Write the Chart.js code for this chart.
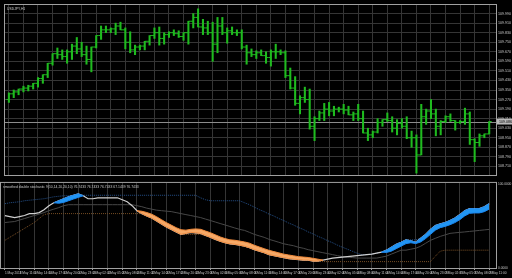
<!DOCTYPE html>
<html>
<head>
<meta charset="utf-8">
<script src="https://cdn.jsdelivr.net/npm/chart.js@4.4.1/dist/chart.umd.min.js"></script>
<style>
  html, body { margin: 0; padding: 0; background: #000; }
  #wrap { position: relative; width: 512px; height: 278px; background: #000; overflow: hidden; }
  canvas { position: absolute; left: 0; }
  #priceChart { top: 0; }
  #stochChart { top: 180px; }
</style>
</head>
<body>
<div id="wrap">
  <canvas id="priceChart" width="512" height="180"></canvas>
  <canvas id="stochChart" width="512" height="98"></canvas>
</div>
<script>
// texts
const symbolLabel = 'USDJPY,H1';
const indicatorLabel = 'smoothed double stochastic 9(10,14,20,20,10) 76.7433 76.7433 76.7433 67.1439 76.7433';

// time axis labels (one every 3 bars)
const timeLabels = ['1 May 2018','1 May 11:00','1 May 14:00','1 May 17:00','1 May 20:00','1 May 23:00',
  '2 May 02:00','2 May 05:00','2 May 08:00','2 May 11:00','2 May 14:00','2 May 17:00','2 May 20:00','2 May 23:00',
  '3 May 02:00','3 May 05:00','3 May 08:00','3 May 11:00','3 May 14:00','3 May 17:00','3 May 20:00','3 May 23:00',
  '4 May 02:00','4 May 05:00','4 May 08:00','4 May 11:00','4 May 14:00','4 May 17:00','4 May 20:00','4 May 23:00',
  '7 May 02:00','7 May 05:00','7 May 08:00','7 May 11:00'];
const labelEvery = 3;

// price axis
const priceTicks = [109.990,109.910,109.830,109.750,109.670,109.590,109.510,109.430,109.350,
  109.270,109.190,109.110,109.030,108.950,108.870,108.790,108.710];
const stochTicks = [100, 0];

// H1 bars
const highs = [109.326,109.350,109.358,109.382,109.390,109.406,109.454,109.478,109.574,109.654,
  109.702,109.686,109.686,109.734,109.790,109.750,109.718,109.710,109.806,109.886,
  109.886,109.870,109.910,109.918,109.870,109.838,109.726,109.726,109.758,109.806,
  109.870,109.878,109.830,109.838,109.854,109.846,109.830,109.926,109.990,110.030,
  109.942,109.926,109.918,109.958,109.958,109.870,109.878,109.854,109.854,109.726,
  109.694,109.678,109.686,109.670,109.686,109.734,109.686,109.678,109.534,109.462,
  109.302,109.374,109.358,109.126,109.174,109.238,109.246,109.214,109.206,109.230,
  109.214,109.166,109.230,109.174,109.030,109.006,109.110,109.102,109.158,109.126,
  109.102,109.110,109.126,109.006,108.974,109.230,109.190,109.270,109.190,109.094,
  109.134,109.150,109.094,109.094,109.198,109.166,108.942,108.982,108.982,109.086];
const lows = [109.246,109.286,109.310,109.334,109.342,109.358,109.374,109.406,109.454,109.558,
  109.614,109.606,109.574,109.606,109.654,109.630,109.566,109.502,109.702,109.774,
  109.830,109.830,109.814,109.854,109.694,109.662,109.646,109.686,109.686,109.726,
  109.782,109.726,109.734,109.790,109.806,109.790,109.766,109.734,109.870,109.878,
  109.814,109.814,109.590,109.662,109.814,109.742,109.814,109.806,109.694,109.566,
  109.630,109.614,109.638,109.574,109.550,109.614,109.646,109.454,109.358,109.222,
  109.150,109.246,109.022,108.926,109.094,109.094,109.134,109.134,109.166,109.150,
  109.142,109.094,109.094,108.990,108.926,108.950,108.990,109.046,109.086,108.998,
  108.974,109.030,108.942,108.870,108.654,108.806,109.062,109.110,108.966,108.974,
  109.078,109.086,109.014,109.070,109.062,108.894,108.750,108.878,108.950,108.982];
const opens = [109.270,109.318,109.334,109.358,109.366,109.382,109.406,109.446,109.478,109.574,
  109.654,109.646,109.630,109.670,109.718,109.694,109.646,109.606,109.710,109.806,
  109.854,109.854,109.862,109.886,109.854,109.750,109.686,109.710,109.718,109.758,
  109.806,109.830,109.782,109.814,109.830,109.822,109.798,109.830,109.926,109.958,
  109.878,109.870,109.830,109.734,109.886,109.830,109.846,109.830,109.830,109.710,
  109.662,109.646,109.662,109.638,109.622,109.670,109.670,109.662,109.470,109.366,
  109.238,109.286,109.270,109.046,109.110,109.158,109.190,109.174,109.190,109.190,
  109.182,109.142,109.150,109.110,108.990,108.974,108.998,109.078,109.102,109.094,
  109.030,109.070,109.046,108.950,108.950,108.806,109.126,109.174,109.150,109.046,
  109.086,109.126,109.094,109.078,109.086,109.150,108.934,108.910,108.966,108.982];
const closes = [109.318,109.334,109.358,109.366,109.382,109.406,109.446,109.478,109.574,109.654,
  109.646,109.630,109.670,109.718,109.694,109.646,109.606,109.710,109.806,109.854,
  109.854,109.862,109.886,109.854,109.750,109.686,109.710,109.718,109.758,109.806,
  109.830,109.782,109.814,109.830,109.822,109.798,109.830,109.926,109.958,109.878,
  109.870,109.830,109.734,109.886,109.830,109.846,109.830,109.830,109.710,109.662,
  109.646,109.662,109.638,109.622,109.670,109.670,109.662,109.470,109.366,109.238,
  109.286,109.270,109.046,109.110,109.158,109.190,109.174,109.190,109.190,109.182,
  109.142,109.150,109.110,108.990,108.974,108.998,109.078,109.102,109.094,109.030,
  109.070,109.046,108.950,108.950,108.806,109.126,109.174,109.150,109.046,109.086,
  109.126,109.094,109.078,109.086,109.150,108.934,108.910,108.966,108.982,109.086];

// indicator lines
const stochMain = [62.4,61.2,60.0,61.2,62.4,64.7,64.7,65.9,69.4,74.1,
  77.6,80.0,82.4,84.7,86.5,88.2,85.9,82.4,82.4,83.5,
  83.5,83.5,83.5,83.5,81.2,78.8,74.1,68.2,64.7,61.8,
  59.4,55.9,52.4,48.8,45.9,42.9,40.0,41.2,42.4,41.8,
  41.2,38.8,36.5,34.1,31.8,30.0,28.8,28.2,27.1,25.9,
  24.1,21.8,20.0,18.2,15.9,14.7,13.5,12.4,11.2,10.6,
  10.0,9.4,9.4,8.2,8.2,9.4,10.6,11.8,12.4,12.9,
  13.5,14.1,14.7,15.3,15.9,16.5,17.6,18.8,21.2,24.7,
  28.2,30.6,33.5,32.4,30.6,35.3,40.0,45.9,50.6,52.4,
  54.1,56.5,59.4,63.5,68.2,70.6,70.6,70.6,72.9,76.5];
const stochUpper = [76.5,77.6,78.2,78.8,80.0,80.6,81.2,81.8,82.4,83.5,
  84.7,85.3,85.9,86.0,86.5,88.2,86.5,86.5,86.5,86.5,
  86.5,86.5,86.5,86.5,86.5,86.5,86.5,86.5,86.5,86.5,
  86.5,86.5,86.5,86.5,86.5,86.5,86.5,86.5,86.5,86.5,
  83.5,81.2,80.0,80.0,80.0,80.0,80.0,80.0,80.0,77.6,
  75.3,72.4,69.4,67.1,64.1,61.8,58.8,56.5,53.5,51.2,
  48.2,45.9,42.9,40.6,37.6,35.3,32.4,30.0,27.1,24.7,
  22.4,20.0,17.6,15.9,15.9,16.5,17.6,18.8,21.2,24.7,
  28.2,30.6,33.5,33.5,33.5,35.3,40.0,45.9,50.6,52.4,
  54.1,56.5,59.4,63.5,68.2,70.6,70.6,70.6,72.9,76.5];
const stochMiddle = [54.1,54.7,55.3,57.1,58.8,60.6,62.4,64.1,65.9,68.2,
  70.0,71.8,74.1,75.3,75.3,75.3,75.3,75.3,75.3,75.3,
  75.3,75.3,75.3,75.3,75.3,75.3,75.3,74.1,72.9,71.2,
  70.0,68.8,68.2,67.6,67.1,65.9,64.7,63.5,62.4,61.2,
  60.0,58.2,56.5,54.7,52.9,51.2,49.4,47.6,45.9,44.7,
  42.4,40.0,38.2,36.5,34.1,32.4,30.6,28.8,27.6,26.5,
  24.7,23.5,21.8,20.6,19.4,18.2,17.1,15.9,14.7,13.5,
  12.9,12.4,11.8,11.8,11.8,11.8,11.8,12.9,14.1,16.5,
  18.8,21.2,21.2,22.4,23.5,25.9,29.4,32.9,35.3,37.6,
  39.4,41.2,41.8,42.4,42.9,43.5,44.1,44.7,45.3,45.9];
const stochLower = [32.9,36.5,40.0,43.5,47.1,50.6,54.1,58.8,63.5,64.7,
  64.7,64.7,64.7,64.7,64.7,64.7,64.7,64.7,64.7,64.7,
  64.7,64.7,64.7,64.7,64.7,64.7,64.7,64.7,64.7,61.8,
  59.4,55.9,52.4,48.8,45.9,42.9,40.0,40.0,40.0,40.0,
  40.0,38.8,36.5,34.1,31.8,30.0,28.8,28.2,27.1,25.9,
  24.1,21.8,20.0,18.2,15.9,14.7,13.5,12.4,11.2,10.6,
  10.0,9.4,9.4,8.2,8.2,7.6,7.6,7.6,7.6,7.6,
  7.6,7.6,7.6,7.6,7.6,7.6,7.6,7.6,7.6,7.6,
  7.6,7.6,7.6,7.6,7.6,7.6,7.6,7.6,14.1,20.0,
  21.2,21.2,21.2,21.2,21.2,21.2,21.2,21.2,21.2,21.2];

// coloured ribbons: falling (orange) and rising (blue)
const fallStart = 27;
const fallSignal = [68.2,67.5,66,64,61,57.5,54,51,48,45.5,45,46,46.5,46,44,42,39.5,37,35,33.5,
  33,32,31,29.5,27,25,23,21,19.5,18,16.5,15.5,14.5,13.5,13,12.5,11.5,10.5,9.4];
const riseStartA = 10;
const riseSignalA = [77.6,77,78,80,82,84,85.9];
const riseStartB = 77;
const riseSignalB = [18.8,18.5,20,23,26,29,30,29,31,35,40,45,48,49.5,51.5,54,57.5,62,65,65.5,65.5,67,70];

const barColor = '#1fbb1f';
const gridColor = '#353535';
const frameColor = '#a0a0a0';
const textColor = '#c8c8c8';
const xMin = -0.8, xMax = 100.4;

Chart.defaults.font.family = "'Liberation Sans', Arial, sans-serif";
Chart.defaults.color = textColor;

const gridIdx = timeLabels.map((_, k) => k * labelEvery);

function toPoints(arr, shift = 0) {
    return arr.map((v, i) => ({ x: i + shift, y: v }));
}

const framePlugin = {
    id: 'frame',
    afterDraw(chart) {
        const { ctx, chartArea: a } = chart;
        ctx.save();
        ctx.strokeStyle = frameColor;
        ctx.lineWidth = 1;
        ctx.strokeRect(a.left - 0.5, a.top - 0.5, a.right - a.left + 1, a.bottom - a.top + 1);
        ctx.restore();
    }
};

function cornerText(text) {
    return {
        id: 'cornerText',
        afterDraw(chart) {
            const { ctx, chartArea: a } = chart;
            ctx.save();
            ctx.fillStyle = textColor;
            ctx.font = "3.4px 'Liberation Sans', Arial, sans-serif";
            ctx.textBaseline = 'top';
            ctx.fillText(text, a.left + 2, a.top + 2);
            ctx.restore();
        }
    };
}

// bid line + price box on the right axis
const bidPlugin = {
    id: 'bid',
    beforeDatasetsDraw(chart) {
        const { ctx, chartArea: a, scales } = chart;
        const y = Math.round(scales.y.getPixelForValue(closes[closes.length - 1])) + 0.5;
        ctx.save();
        ctx.strokeStyle = '#8c8c8c';
        ctx.lineWidth = 1;
        ctx.beginPath();
        ctx.moveTo(a.left, y);
        ctx.lineTo(a.right, y);
        ctx.stroke();
        ctx.restore();
    },
    afterDraw(chart) {
        const { ctx, chartArea: a, scales } = chart;
        const last = closes[closes.length - 1];
        const y = scales.y.getPixelForValue(last);
        ctx.save();
        ctx.fillStyle = '#b8b8b8';
        ctx.fillRect(a.right + 1, y - 3, chart.width - a.right - 1, 6);
        ctx.fillStyle = '#000';
        ctx.font = "3.6px 'Liberation Sans', Arial, sans-serif";
        ctx.textBaseline = 'middle';
        ctx.fillText(last.toFixed(3), a.right + 3, y);
        ctx.restore();
    }
};

new Chart(document.getElementById('priceChart'), {
    type: 'bar',
    data: {
        datasets: [
            {
                type: 'line', data: toPoints(opens, -0.28), showLine: false,
                pointStyle: 'line', pointRadius: 1.1, pointBorderWidth: 1,
                pointBorderColor: barColor, pointBackgroundColor: barColor
            },
            {
                type: 'line', data: toPoints(closes, 0.28), showLine: false,
                pointStyle: 'line', pointRadius: 1.1, pointBorderWidth: 1,
                pointBorderColor: barColor, pointBackgroundColor: barColor
            },
            {
                type: 'bar', data: lows.map((lo, i) => ({ x: i, y: [lo, highs[i]] })),
                backgroundColor: barColor, borderWidth: 0, barThickness: 1.4
            }
        ]
    },
    options: {
        responsive: false, animation: false, events: [],
        layout: { padding: { top: 1, left: 1, bottom: 1, right: 0 } },
        plugins: { legend: { display: false }, tooltip: { enabled: false } },
        scales: {
            x: {
                type: 'linear', min: xMin, max: xMax, offset: false,
                afterBuildTicks: s => { s.ticks = gridIdx.map(v => ({ value: v })); },
                afterFit: s => { s.height = 0; s.paddingLeft = 0; s.paddingRight = 0; },
                ticks: { display: false },
                grid: { color: gridColor, drawTicks: false, offset: false },
                border: { display: false }
            },
            y: {
                type: 'linear', position: 'right', min: 108.638, max: 110.062,
                afterBuildTicks: s => { s.ticks = priceTicks.map(v => ({ value: v })); },
                afterFit: s => { s.width = 16; },
                ticks: { font: { size: 3.6 }, padding: 1, color: textColor, callback: v => v.toFixed(3) },
                grid: { color: gridColor, tickLength: 1, tickColor: frameColor },
                border: { color: frameColor }
            }
        }
    },
    plugins: [bidPlugin, framePlugin, cornerText(symbolLabel)]
});

function ribbon(start, signal, edgeColor, fillColor) {
    const edge = signal.map((_, k) => ({ x: start + k, y: stochMain[start + k] }));
    const sig = signal.map((v, k) => ({ x: start + k, y: v }));
    return [
        { data: edge, borderColor: edgeColor, borderWidth: 1, pointRadius: 0, fill: false },
        { data: sig, borderColor: edgeColor, borderWidth: 1, pointRadius: 0, fill: '-1', backgroundColor: fillColor }
    ];
}

new Chart(document.getElementById('stochChart'), {
    type: 'line',
    data: {
        datasets: [
            ...ribbon(fallStart, fallSignal, '#f08a3c', '#f6a967'),
            ...ribbon(riseStartA, riseSignalA, '#1c86ee', '#2196f3'),
            ...ribbon(riseStartB, riseSignalB, '#1c86ee', '#2196f3'),
            { data: toPoints(stochMain), borderColor: '#cfcfcf', borderWidth: 1.2, pointRadius: 0 },
            { data: toPoints(stochMiddle), borderColor: '#474747', borderWidth: 1, pointRadius: 0 },
            { data: toPoints(stochUpper), borderColor: '#24508a', borderWidth: 1, borderDash: [1, 1], pointRadius: 0 },
            { data: toPoints(stochLower), borderColor: '#7a4f25', borderWidth: 1, borderDash: [1, 1], pointRadius: 0 }
        ]
    },
    options: {
        responsive: false, animation: false, events: [],
        layout: { padding: { top: 2, left: 1, bottom: 0, right: 0 } },
        plugins: { legend: { display: false }, tooltip: { enabled: false } },
        scales: {
            x: {
                type: 'linear', min: xMin, max: xMax, offset: false,
                afterBuildTicks: s => { s.ticks = gridIdx.map(v => ({ value: v })); },
                afterFit: s => { s.height = 10; s.paddingLeft = 0; s.paddingRight = 0; },
                ticks: {
                    font: { size: 3.2 }, align: 'start', maxRotation: 0, autoSkip: false,
                    padding: 1, color: textColor, callback: (v, k) => timeLabels[k]
                },
                grid: { color: gridColor, tickLength: 2, tickColor: frameColor },
                border: { color: frameColor }
            },
            y: {
                type: 'linear', position: 'right', min: 0, max: 101.2,
                afterBuildTicks: s => { s.ticks = stochTicks.map(v => ({ value: v })); },
                afterFit: s => { s.width = 16; },
                ticks: { font: { size: 3.2 }, padding: 1, color: textColor, callback: v => v.toFixed(4) },
                grid: { drawOnChartArea: false, tickLength: 1, tickColor: frameColor },
                border: { color: frameColor }
            }
        }
    },
    plugins: [framePlugin, cornerText(indicatorLabel)]
});
</script>
</body>
</html>
